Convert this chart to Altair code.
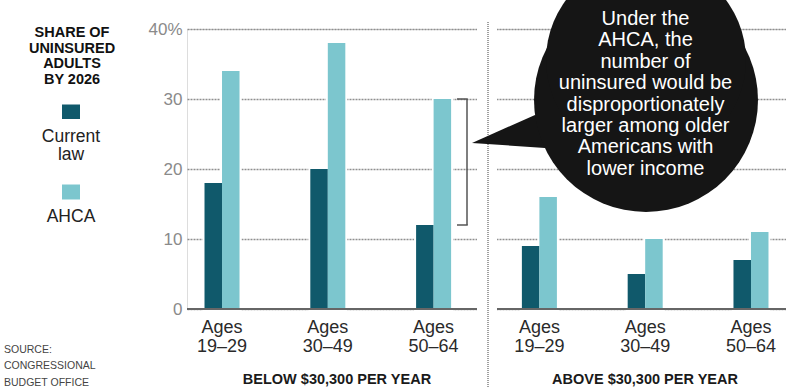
import altair as alt
import pandas as pd

# --- data -------------------------------------------------------------
incomes = ["BELOW $30,300 PER YEAR", "ABOVE $30,300 PER YEAR"]
income_keys = ["below", "above"]
ages = ["19–29", "30–49", "50–64"]
series = ["Current law", "AHCA"]
current_law = [18, 20, 12, 9, 5, 7]
ahca = [34, 38, 30, 16, 10, 11]
y_ticks = [0, 10, 20, 30, 40]

legend_title = ["SHARE OF", "UNINSURED", "ADULTS", "BY 2026"]
callout_lines = [
    "Under the",
    "AHCA, the",
    "number of",
    "uninsured would be",
    "disproportionately",
    "larger among older",
    "Americans with",
    "lower income",
]
source_lines = ["SOURCE:", "CONGRESSIONAL", "BUDGET OFFICE"]

DARK = "#10596b"
LIGHT = "#7cc6ce"
FONT = "Liberation Sans"

# --- tables -----------------------------------------------------------
keys = [f"{ik} {a}" for ik in income_keys for a in ages]
rows = []
for i, k in enumerate(keys):
    rows.append({"key": k, "series": "Current law", "value": current_law[i]})
    rows.append({"key": k, "series": "AHCA", "value": ahca[i]})
bars_df = pd.DataFrame(rows)
groups_df = pd.DataFrame({"key": keys, "label": [f"Ages\n{a}" for _ in income_keys for a in ages]})
legend_df = pd.DataFrame({"series": series})
one = pd.DataFrame({"n": [0]})

W, H = 599, 280
LEFT_END, RIGHT_START = 290, 310

x_enc = alt.X(
    "key:N",
    sort=keys,
    scale=alt.Scale(domain=keys, paddingInner=0.669, paddingOuter=0.1655),
    axis=None,
)
xoff_enc = alt.XOffset("series:N", sort=series,
                       scale=alt.Scale(domain=series, paddingInner=0, paddingOuter=0))
color_enc = alt.Color("series:N", scale=alt.Scale(domain=series, range=[DARK, LIGHT]), legend=None)
# the y axis carries the dotted gridlines
y_enc = alt.Y(
    "value:Q",
    scale=alt.Scale(domain=[0, 40], nice=False),
    axis=alt.Axis(
        values=y_ticks,
        labelExpr="datum.value == 40 ? '40%' : datum.label",
        domain=False, ticks=False, title=None,
        grid=True, gridColor="#8f8f8f", gridWidth=1.6, gridDash=[2, 1],
        labelColor="#8a8a8a", labelFontSize=17, labelFont=FONT, labelPadding=5,
    ),
)

# white gap between the two income panels, with a dotted divider
gap = alt.Chart(one).mark_rect(color="white").encode(
    x=alt.value(LEFT_END), x2=alt.value(RIGHT_START), y=alt.value(-2), y2=alt.value(H + 2))
divider = alt.Chart(one).mark_rule(color="#a0a0a0", strokeWidth=2, strokeDash=[1, 1]).encode(
    x=alt.value(301), y=alt.value(-7), y2=alt.value(358))

# white halo under the bars breaks the gridlines around them
halo = alt.Chart(bars_df).mark_bar(color="white", stroke="white", strokeWidth=4).encode(
    x=x_enc, xOffset=xoff_enc, y=alt.Y("value:Q"))
bars = alt.Chart(bars_df).mark_bar().encode(
    x=x_enc, xOffset=xoff_enc, y=y_enc, color=color_enc)

base_left = alt.Chart(one).mark_rule(color="#666666", strokeWidth=2).encode(
    y=alt.datum(0), x=alt.value(0), x2=alt.value(LEFT_END))
base_right = alt.Chart(one).mark_rule(color="#666666", strokeWidth=2).encode(
    y=alt.datum(0), x=alt.value(RIGHT_START), x2=alt.value(W))

# bracket spanning the 50–64 gap (below $30,300)
bx = 280
bracket_v = alt.Chart(one).mark_rule(color="#555555", strokeWidth=1.5).encode(
    x=alt.value(bx), y=alt.datum(ahca[2]), y2=alt.datum(current_law[2]))
bracket_top = alt.Chart(one).mark_rule(color="#555555", strokeWidth=1.5).encode(
    x=alt.value(bx - 10), x2=alt.value(bx + 0.75), y=alt.datum(ahca[2]))
bracket_bot = alt.Chart(one).mark_rule(color="#555555", strokeWidth=1.5).encode(
    x=alt.value(bx - 10), x2=alt.value(bx + 0.75), y=alt.datum(current_law[2]))

# speech bubble: two overlapping discs (taller at the top) plus a tail
BX, BY = 459, 71
bubble_low = alt.Chart(one).mark_point(
    shape="circle", size=224 ** 2, filled=True, color="#151515", opacity=1, strokeWidth=0
).encode(x=alt.value(BX), y=alt.value(BY))
bubble_high = alt.Chart(one).mark_point(
    shape="circle", size=200 ** 2, filled=True, color="#151515", opacity=1, strokeWidth=0
).encode(x=alt.value(BX), y=alt.value(BY - 40))
tail_path = "M-174,43L-111,15L-60,30L-101,48Z"
tail = alt.Chart(one).mark_point(
    shape=tail_path, size=4, filled=True, color="#151515", opacity=1, strokeWidth=0
).encode(x=alt.value(BX), y=alt.value(BY))
bubble_text = alt.Chart(one).mark_text(
    text=callout_lines, color="white", font=FONT, fontSize=20, lineHeight=21.4,
    align="center", baseline="alphabetic",
).encode(x=alt.value(458.5), y=alt.value(-4))

# category labels under each bar pair
x_labels = alt.Chart(groups_df).mark_text(
    font=FONT, fontSize=18, color="#2a2a2a", lineBreak="\n", lineHeight=19,
    align="center", baseline="alphabetic",
).encode(x=x_enc, y=alt.value(304.3), text="label:N")

title_left = alt.Chart(one).mark_text(
    text=incomes[0], font=FONT, fontSize=14.5, fontWeight="bold", color="#1a1a1a",
    align="center", baseline="alphabetic").encode(x=alt.value(150), y=alt.value(355.3))
title_right = alt.Chart(one).mark_text(
    text=incomes[1], font=FONT, fontSize=14.5, fontWeight="bold", color="#1a1a1a",
    align="center", baseline="alphabetic").encode(x=alt.value(458), y=alt.value(355.3))

# hand-built legend on the left
leg_title = alt.Chart(one).mark_text(
    text=legend_title, font=FONT, fontSize=14.5, fontWeight="bold", color="#111111",
    lineHeight=15.9, align="center", baseline="alphabetic",
).encode(x=alt.value(-115), y=alt.value(7.7))
sw_cur = alt.Chart(legend_df).transform_filter(alt.datum.series == series[0]).mark_rect().encode(
    x=alt.value(-125), x2=alt.value(-107), y=alt.value(75.5), y2=alt.value(90), color=color_enc)
sw_ahca = alt.Chart(legend_df).transform_filter(alt.datum.series == series[1]).mark_rect().encode(
    x=alt.value(-125), x2=alt.value(-107), y=alt.value(155.5), y2=alt.value(170.5), color=color_enc)
lab_cur = alt.Chart(one).mark_text(
    text=["Current", "law"], font=FONT, fontSize=17.5, color="#222222", lineHeight=18.5,
    align="center", baseline="alphabetic").encode(x=alt.value(-116), y=alt.value(112.7))
lab_ahca = alt.Chart(one).mark_text(
    text=series[1], font=FONT, fontSize=17.5, color="#222222",
    align="center", baseline="alphabetic").encode(x=alt.value(-116), y=alt.value(192.7))

source = alt.Chart(one).mark_text(
    text=source_lines, font=FONT, fontSize=10.5, color="#444444", lineHeight=16.2,
    align="left", baseline="alphabetic").encode(x=alt.value(-183), y=alt.value(324.3))

chart = alt.layer(
    gap, divider, halo, bars, base_left, base_right,
    bracket_v, bracket_top, bracket_bot, tail, bubble_low, bubble_high, bubble_text,
    x_labels, title_left, title_right,
    leg_title, sw_cur, sw_ahca, lab_cur, lab_ahca, source,
).properties(
    width=W, height=H,
    padding={"left": 187, "top": 29, "right": 0, "bottom": 78},
    autosize=alt.AutoSizeParams(type="none"),
).configure_view(stroke=None).configure(background="white")

chart.save("out.html", embed_options={"renderer": "svg", "actions": False})
